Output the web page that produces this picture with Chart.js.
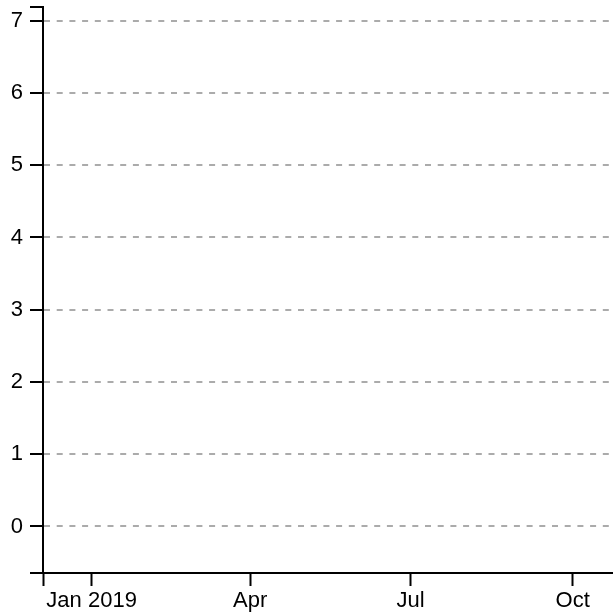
<!DOCTYPE html>
<html>
<head>
<meta charset="utf-8">
<script src="https://cdn.jsdelivr.net/npm/chart.js@4/dist/chart.umd.min.js"></script>
<style>
  html, body { margin: 0; padding: 0; background: #fff; }
  canvas { display: block; }
</style>
</head>
<body>
<canvas id="chart" width="613" height="615"></canvas>
<script>
// Chart data (the reference plot has axes only, no series drawn)
const seriesValues = [];
// x positions are days counted from 1 Jan 2019
const xTickDays = [0, 90, 181, 273];
const xTickLabels = ['Jan 2019', 'Apr', 'Jul', 'Oct'];
const yTickValues = [0, 1, 2, 3, 4, 5, 6, 7];
const xRange = [-27.6, 295.9];
const yRange = [-0.644, 7.19];

const fontSpec = { family: '"Liberation Sans", Arial, sans-serif', size: 22 };

// outer ticks at the ends of each axis (no label, no grid line)
function isOuter(value, range) {
    return value === range[0] || value === range[1];
}

const chart = new Chart(document.getElementById('chart'), {
    type: 'line',
    data: {
        datasets: [{
            data: seriesValues,
            borderColor: '#000',
            pointRadius: 0
        }]
    },
    options: {
        responsive: false,
        animation: false,
        layout: { padding: { top: 7, left: 0, right: 0, bottom: 0 } },
        plugins: { legend: { display: false }, tooltip: { enabled: false } },
        scales: {
            x: {
                type: 'linear',
                min: xRange[0],
                max: xRange[1],
                afterBuildTicks: (scale) => {
                    scale.ticks = [{ value: xRange[0] }].concat(xTickDays.map(v => ({ value: v })));
                },
                afterFit: (scale) => {
                    scale.height = 42;
                    scale.paddingLeft = 0;
                    scale.paddingRight = 0;
                },
                grid: {
                    drawOnChartArea: false,
                    drawTicks: true,
                    tickLength: 13,
                    tickWidth: 2,
                    tickColor: '#000'
                },
                border: { display: true, color: '#000', width: 2 },
                ticks: {
                    autoSkip: false,
                    maxRotation: 0,
                    minRotation: 0,
                    padding: 2,
                    color: '#000',
                    font: fontSpec,
                    callback: (value) => {
                        const i = xTickDays.indexOf(value);
                        return i >= 0 ? xTickLabels[i] : '';
                    }
                }
            },
            y: {
                type: 'linear',
                min: yRange[0],
                max: yRange[1],
                afterBuildTicks: (scale) => {
                    scale.ticks = [{ value: yRange[0] }]
                        .concat(yTickValues.map(v => ({ value: v })))
                        .concat([{ value: yRange[1] }]);
                },
                afterFit: (scale) => {
                    scale.width = 43;
                    scale.paddingTop = 0;
                    scale.paddingBottom = 0;
                },
                grid: {
                    drawOnChartArea: true,
                    drawTicks: true,
                    tickLength: 13,
                    tickWidth: 2,
                    tickColor: '#000',
                    lineWidth: 2,
                    color: (ctx) => (ctx.tick && isOuter(ctx.tick.value, yRange)) ? 'rgba(0,0,0,0)' : '#ababab'
                },
                border: { display: true, color: '#000', width: 2, dash: [6, 6.7] },
                ticks: {
                    autoSkip: false,
                    padding: 7,
                    color: '#000',
                    font: fontSpec,
                    callback: (value) => isOuter(value, yRange) ? '' : String(value)
                }
            }
        }
    }
});
</script>
</body>
</html>
